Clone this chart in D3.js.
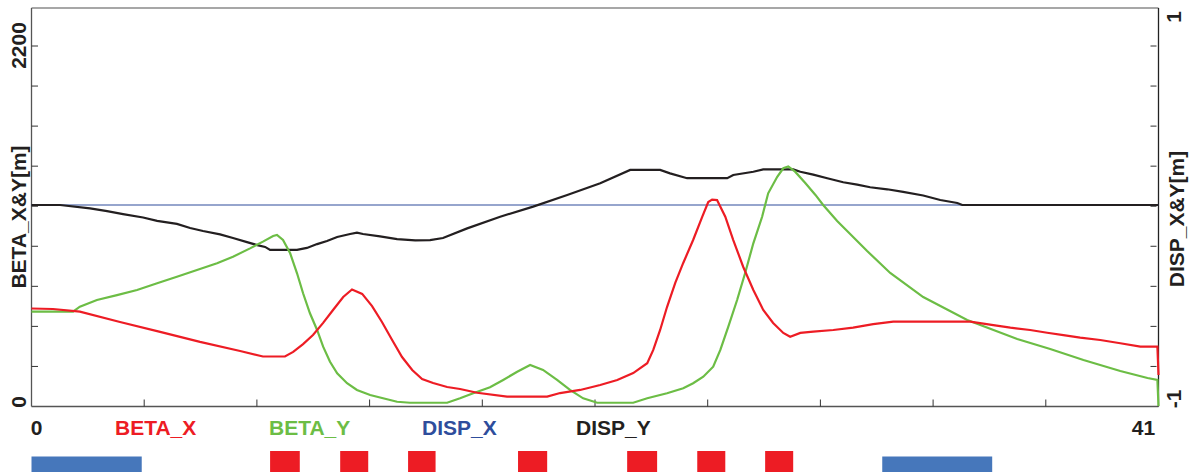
<!DOCTYPE html>
<html><head><meta charset="utf-8">
<script src="https://cdn.jsdelivr.net/npm/d3@7/dist/d3.min.js"></script>
<style>html,body{margin:0;padding:0;background:#fff;overflow:hidden}
text{font-family:"Liberation Sans",Arial,sans-serif;font-weight:bold}</style>
</head><body><svg id="c" width="1189" height="472"></svg>
<script>
// ---- data (s in m) ----
const sBetaX = [0,0.78,1.76,3.22,4.68,6.13,7.59,8.42,9.22,9.52,9.88,10.24,10.61,10.97,11.34,11.66,12.03,12.39,12.75,13.12,13.48,13.85,14.21,14.61,15.12,15.59,16.21,17.30,18.76,19.23,19.96,20.69,21.31,21.89,22.40,22.62,22.87,23.12,23.42,23.71,24.07,24.40,24.62,24.76,24.94,25.24,25.53,25.89,26.26,26.62,26.98,27.35,27.60,27.97,28.44,29.17,29.89,30.62,31.35,34.15,34.99,35.61,36.33,36.95,37.54,38.15,38.88,39.61,40.34,40.96,41.0];
const betaX = [598,595,579,516,455,394,339,305,305,333,381,436,510,589,668,714,687,613,516,406,302,223,168,143,119,107,84,60,60,82,101,131,162,204,264,345,467,607,754,876,1016,1157,1248,1263,1260,1158,1016,853,711,589,510,449,426,449,457,467,481,503,518,518,497,481,467,450,436,420,406,386,365,365,192];

const sBetaY = [0,1.51,1.76,2.38,3.11,3.84,4.57,5.29,6.02,6.75,7.33,7.95,8.42,8.79,8.93,9.15,9.41,9.66,9.88,10.13,10.39,10.61,10.86,11.12,11.48,11.84,12.32,12.79,13.30,13.77,15.12,15.59,16.07,16.68,17.16,17.67,18.14,18.61,19.12,19.59,20.07,20.58,21.89,22.40,23.12,23.71,24.07,24.44,24.80,25.06,25.35,25.67,25.96,26.26,26.58,26.80,27.13,27.35,27.53,27.78,28.15,28.52,28.80,29.31,29.71,30.40,31.24,32.44,34.04,35.86,37.06,38.27,39.61,40.60,40.96,41.0];
const betaY = [579,579,609,650,680,711,752,792,833,874,914,965,1006,1041,1047,1016,935,813,691,569,467,365,273,203,142,101,70,50,29,23,23,50,81,117,162,212,253,223,162,101,50,23,23,50,81,111,142,182,243,345,487,650,813,996,1158,1301,1402,1454,1465,1433,1364,1291,1230,1132,1065,949,815,668,528,412,351,284,217,174,162,3];

const sDispY = [0,1.04,2.13,2.75,3.33,4.06,4.57,5.29,5.77,6.24,6.86,7.33,7.84,8.21,8.50,8.68,9.66,10.02,10.39,10.75,11.12,11.59,11.84,12.06,12.68,13.30,13.96,14.50,14.97,15.85,17.05,18.25,19.49,20.69,21.78,22.87,23.23,23.85,25.31,25.53,26.26,26.62,27.71,27.97,28.44,28.95,29.53,30.04,30.51,31.13,31.71,32.44,33.06,33.68,33.86,41.0];
const dispY = [0,0,-0.017,-0.030,-0.045,-0.062,-0.079,-0.094,-0.114,-0.129,-0.146,-0.164,-0.184,-0.199,-0.208,-0.223,-0.223,-0.213,-0.194,-0.179,-0.159,-0.144,-0.137,-0.144,-0.156,-0.169,-0.176,-0.174,-0.164,-0.116,-0.058,-0.008,0.050,0.108,0.174,0.174,0.157,0.133,0.133,0.149,0.165,0.177,0.177,0.165,0.151,0.133,0.113,0.101,0.088,0.078,0.065,0.047,0.025,0.010,0,0];

const sDispX = [0,41];
const dispX = [0,0];

// magnets along the line
const quadStart = [8.68,11.23,13.70,17.70,21.67,24.22,26.69];
const quadLen   = [1.08,1.02,1.00,1.06,1.09,1.02,1.02];
const bendStart = [0,30.95];
const bendLen   = [4.01,4.0];

const xTickLabels = ["0","41"];
const betaTickLabels = ["0","2200"];
const dispTickLabels = ["-1","1"];
const legendNames = ["BETA_X","BETA_Y","DISP_X","DISP_Y"];

// ---- scales ----
const svg = d3.select("#c");
const x = d3.scaleLinear().domain([0,41]).range([31.5,1158.5]);
const yB = d3.scaleLinear().domain([0,2200]).range([406.5,46]);
const yD = d3.scaleLinear().domain([-1,1]).range([406.5,3.5]);

const cRed="#ed1c24", cGreen="#6cbd45", cBlue="#2e4d9c", cBlack="#231f20", cBar="#4677bb";

// ---- frame ----
const yTop=8, yBot=406.5, xL=x(0), xR=x(41);
svg.append("line").attr("x1",xL).attr("x2",xR).attr("y1",yTop).attr("y2",yTop).attr("stroke","#8a8a8a").attr("stroke-width",1.5);
svg.append("line").attr("x1",xL).attr("x2",xR).attr("y1",yBot).attr("y2",yBot).attr("stroke","#555").attr("stroke-width",1.3);
svg.append("line").attr("x1",xL).attr("x2",xL).attr("y1",yTop).attr("y2",yBot).attr("stroke","#555").attr("stroke-width",1.3);
svg.append("line").attr("x1",xR).attr("x2",xR).attr("y1",yTop).attr("y2",yBot).attr("stroke","#222").attr("stroke-width",1.3);

// ticks
const bTicks = d3.range(1,10).map(k=>k*2200/9);
svg.append("g").selectAll("line").data(bTicks).join("line")
  .attr("x1",xL).attr("x2",xL+6.5).attr("y1",d=>yB(d)).attr("y2",d=>yB(d)).attr("stroke","#333").attr("stroke-width",1);
svg.append("g").selectAll("line").data(bTicks).join("line")
  .attr("x1",xR-8).attr("x2",xR-2).attr("y1",d=>yB(d)).attr("y2",d=>yB(d)).attr("stroke","#333").attr("stroke-width",1);
const xTicks = d3.range(1,10).map(k=>k*4.1);
svg.append("g").selectAll("line").data(xTicks).join("line")
  .attr("x1",d=>x(d)).attr("x2",d=>x(d)).attr("y1",yBot).attr("y2",yBot-7).attr("stroke","#333").attr("stroke-width",1);

// ---- curves ----
const mk = (sArr, vArr, ys) => d3.line().x((d,i)=>x(sArr[i])).y(d=>ys(d))(vArr);
svg.append("path").attr("d",mk(sDispX,dispX,yD)).attr("fill","none").attr("stroke",cBlue).attr("stroke-width",1.1);
svg.append("path").attr("d",mk(sDispY,dispY,yD)).attr("fill","none").attr("stroke",cBlack).attr("stroke-width",2.2);
svg.append("path").attr("d",mk(sBetaY,betaY,yB)).attr("fill","none").attr("stroke",cGreen).attr("stroke-width",2.2);
svg.append("path").attr("d",mk(sBetaX,betaX,yB)).attr("fill","none").attr("stroke",cRed).attr("stroke-width",2.2);

// ---- axis labels ----
function vtext(t,cx,cy,fill){
  svg.append("text").attr("transform",`translate(${cx},${cy}) rotate(-90)`)
    .attr("text-anchor","middle").attr("dominant-baseline","central")
    .attr("font-size",21).attr("fill",fill||cBlack).text(t);
}
vtext(betaTickLabels[1],18,yB(2200)-0.5);
vtext(betaTickLabels[0],18,yB(0)-4.5);
vtext("BETA_X&Y[m]",18,217);
vtext(dispTickLabels[1],1173,17);
vtext(dispTickLabels[0],1173,399);
vtext("DISP_X&Y[m]",1176,219);

svg.append("text").attr("x",x(0)+5).attr("y",434.5).attr("text-anchor","middle").attr("font-size",21).attr("fill",cBlack).text(xTickLabels[0]);
svg.append("text").attr("x",x(41)-15).attr("y",434.5).attr("text-anchor","middle").attr("font-size",21).attr("fill",cBlack).text(xTickLabels[1]);

const legX = [115,269,422,576], legC=[cRed,cGreen,cBlue,cBlack];
legendNames.forEach((n,i)=>{
  svg.append("text").attr("x",legX[i]).attr("y",434.5).attr("font-size",21).attr("fill",legC[i]).text(n);
});

// ---- magnets ----
svg.append("g").selectAll("rect").data(bendStart).join("rect")
  .attr("x",d=>x(d)).attr("width",(d,i)=>x(d+bendLen[i])-x(d)).attr("y",456.5).attr("height",15.5).attr("fill",cBar);
svg.append("g").selectAll("rect").data(quadStart).join("rect")
  .attr("x",d=>x(d)).attr("width",(d,i)=>x(d+quadLen[i])-x(d)).attr("y",451).attr("height",21).attr("fill",cRed);
</script></body></html>
